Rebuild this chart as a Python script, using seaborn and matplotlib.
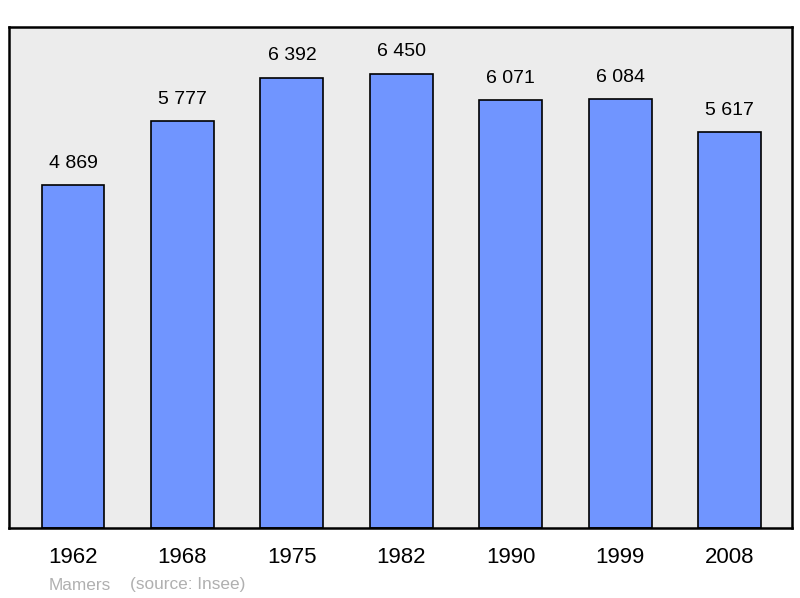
import pandas as pd
import matplotlib.pyplot as plt
import seaborn as sns

years = ['1962', '1968', '1975', '1982', '1990', '1999', '2008']
population = [4869, 5777, 6392, 6450, 6071, 6084, 5617]
value_labels = ['4 869', '5 777', '6 392', '6 450', '6 071', '6 084', '5 617']

df = pd.DataFrame({'year': years, 'pop': population})

sns.set_style('white')
plt.rcParams['font.family'] = ['Liberation Sans', 'DejaVu Sans']

fig = plt.figure(figsize=(8, 5.98), dpi=100)
ax = fig.add_axes([0.01125, 0.117, 0.97875, 0.8378])
ax.set_facecolor('#ececec')

sns.barplot(data=df, x='year', y='pop', color='#7095ff', saturation=1,
            width=0.575, edgecolor='black', linewidth=1.2, ax=ax)

for i, (v, lab) in enumerate(zip(population, value_labels)):
    ax.annotate(lab, (i, v), xytext=(0, 9.5), textcoords='offset points',
                ha='center', va='bottom', fontsize=14, color='black')

ax.set_xlim(-0.585, 6.57)
ax.set_ylim(0, 7111)
ax.set_yticks([])
ax.set_xlabel('')
ax.set_ylabel('')
ax.tick_params(axis='x', length=0, labelsize=16, pad=14, labelcolor='black')
for s in ax.spines.values():
    s.set_visible(True)
    s.set_color('black')
    s.set_linewidth(1.8)

fig.text(49 / 800, 1 - 585 / 598, 'Mamers', color='#b0b0b0', fontsize=12.4, va='center')
fig.text(130 / 800, 1 - 585 / 598, '(source: Insee)', color='#b0b0b0', fontsize=12.4, va='center')

fig.savefig('out.png', dpi=100)
